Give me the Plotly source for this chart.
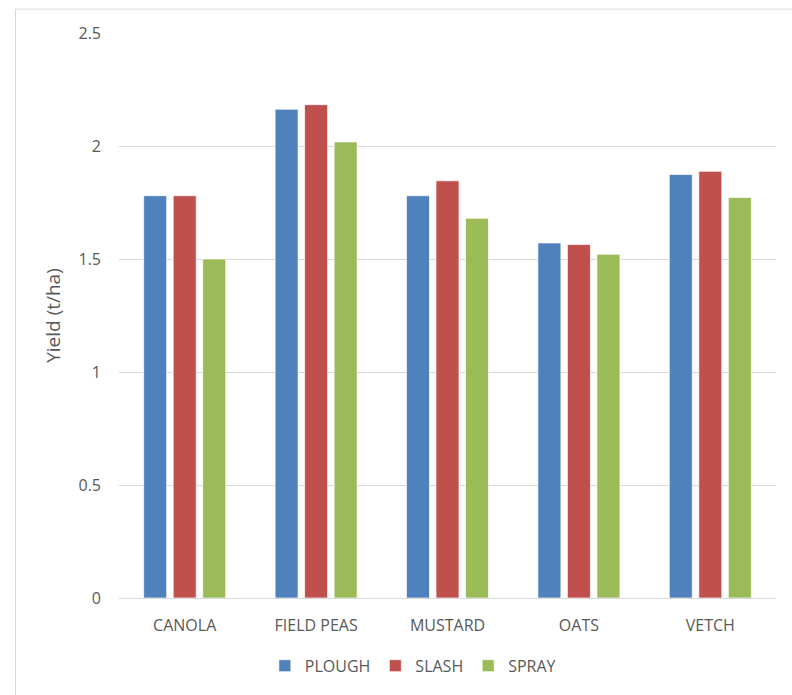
import plotly.graph_objects as go

categories = ["CANOLA", "FIELD PEAS", "MUSTARD", "OATS", "VETCH"]
plough = [1.78, 2.163, 1.78, 1.571, 1.874]
slash = [1.78, 2.183, 1.846, 1.564, 1.888]
spray = [1.50, 2.018, 1.68, 1.521, 1.772]
series_names = ["PLOUGH", "SLASH", "SPRAY"]
series_colors = ["#4F81BD", "#C0504D", "#9BBB59"]
y_ticks = [0, 0.5, 1, 1.5, 2, 2.5]
y_tick_labels = ["0", "0.5", "1", "1.5", "2", "2.5"]

FONT = "Open Sans"
TXT = "#595959"

fig = go.Figure()
for name, vals, col in zip(series_names, [plough, slash, spray], series_colors):
    fig.add_trace(go.Bar(
        x=categories, y=vals, name=name,
        marker=dict(color=col, line=dict(color="rgba(255,255,255,0.7)", width=1)),
    ))

fig.update_layout(
    width=792, height=695,
    margin=dict(l=119, r=16, t=33, b=95),
    paper_bgcolor="white", plot_bgcolor="white",
    barmode="group", bargap=0.326, bargroupgap=0.22,
    font=dict(family=FONT, size=16, color=TXT),
    showlegend=True,
    legend=dict(orientation="h", x=0.222, xanchor="left", y=-0.12, yanchor="middle",
                itemwidth=30, font=dict(family=FONT, size=16, color=TXT),
                bgcolor="rgba(0,0,0,0)"),
    xaxis=dict(showgrid=False, showline=True, linecolor="#D9D9D9", linewidth=1,
               ticks="", tickfont=dict(family=FONT, size=16, color=TXT),
               ticklabelstandoff=13, fixedrange=True, automargin=False),
    yaxis=dict(range=[0, 2.5], tickvals=y_ticks, ticktext=y_tick_labels,
               showgrid=True, gridcolor="#D9D9D9", gridwidth=1, zeroline=False,
               showline=False, ticks="", ticklabelstandoff=17,
               tickfont=dict(family=FONT, size=16, color=TXT),
               title=dict(text="Yield (t/ha)", font=dict(family=FONT, size=19, color=TXT), standoff=12),
               automargin=False),
    shapes=[dict(type="rect", xref="paper", yref="paper",
                 x0=-0.1575, x1=1.2, y0=-0.4, y1=1.0423,
                 line=dict(color="#D9D9D9", width=1), fillcolor="rgba(0,0,0,0)", layer="below")],
)

fig.write_html("out.html")
